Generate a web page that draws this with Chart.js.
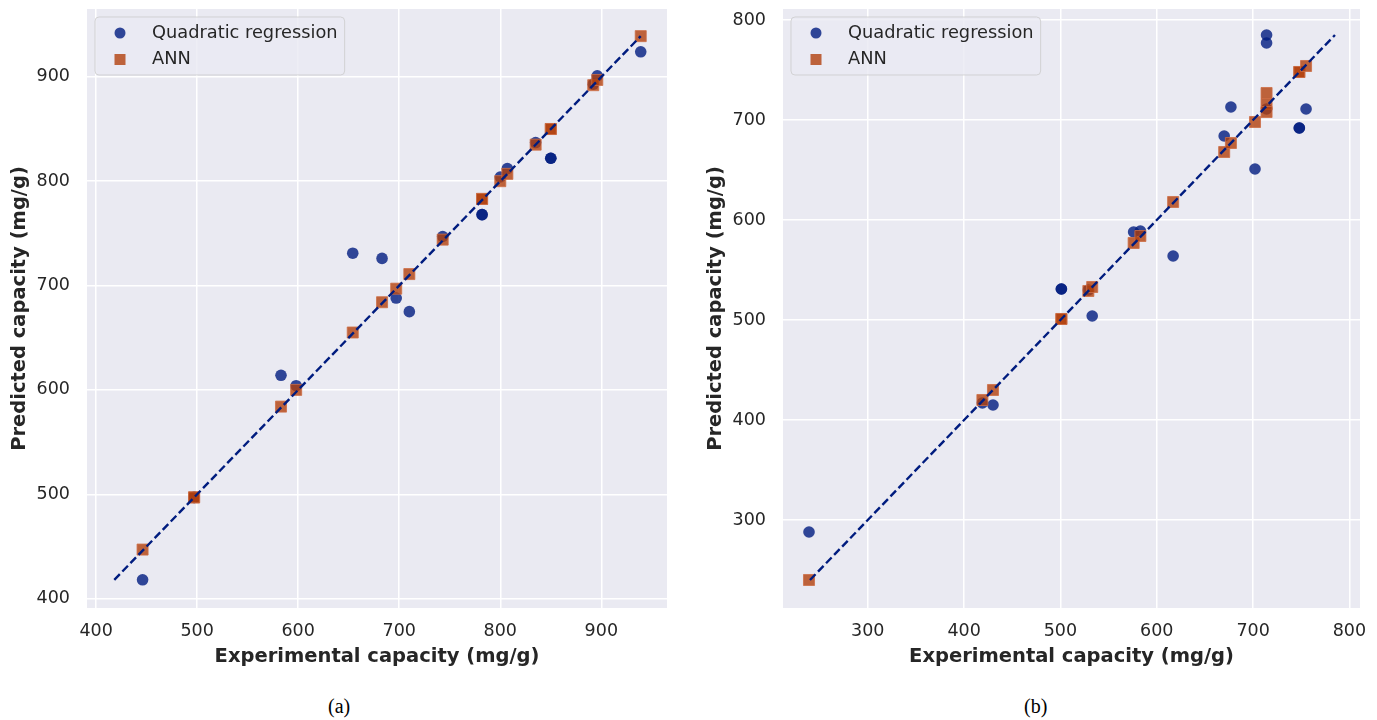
<!DOCTYPE html>
<html>
<head>
<meta charset="utf-8">
<script src="https://cdn.jsdelivr.net/npm/chart.js@4.4.0/dist/chart.umd.min.js"></script>
<style>
  body { margin: 0; background: #fff; width: 1377px; height: 720px; position: relative; overflow: hidden; }
  canvas { position: absolute; top: 0; }
  .cap { position: absolute; top: 695px; font-family: "Liberation Serif", serif; font-size: 20px; color: #000; }
</style>
</head>
<body>
<canvas id="chartA" width="680" height="690" style="left:0"></canvas>
<canvas id="chartB" width="687" height="690" style="left:690px"></canvas>
<div class="cap" style="left:328px">(a)</div>
<div class="cap" style="left:1024px">(b)</div>
<script>
// (a) experimental vs predicted
const expA = [446, 497, 497, 583, 598, 654, 683, 697, 710, 743, 782, 782, 800, 807, 835, 850, 850, 892, 896, 939];
const qrA  = [418, 497, 497, 614, 604, 731, 726, 688, 675, 747, 768, 768, 804, 812, 837, 822, 822, 893, 901, 924];
const annA = [447, 497, 497, 584, 600, 655, 684, 697, 711, 744, 783, 783, 800, 807, 835, 850, 850, 892, 897, 939];
const ticksA = [400, 500, 600, 700, 800, 900];

// (b)
const expB = [239, 419, 430, 501, 501, 529, 533, 576, 583, 617, 670, 677, 702, 714, 714, 714, 748, 748, 755];
const qrB  = [288, 417, 415, 531, 531, 530, 504, 588, 589, 564, 684, 713, 651, 785, 777, 711, 692, 692, 711];
const annB = [240, 420, 430, 501, 501, 529, 533, 577, 584, 618, 668, 677, 698, 727, 716, 708, 748, 748, 754];
const ticksBx = [300, 400, 500, 600, 700, 800];
const ticksBy = [300, 400, 500, 600, 700, 800];

const seriesNames = ["Quadratic regression", "ANN"];
const QR_COLOR = "rgba(0,28,127,0.8)";
const ANN_COLOR = "rgba(177,64,13,0.8)";
const TEXT = "#262626";
const FONT = "'DejaVu Sans', sans-serif";

const bgPlugin = {
  id: "bg",
  beforeDraw(chart) {
    const a = chart.chartArea, ctx = chart.ctx;
    ctx.save();
    ctx.fillStyle = "#EAEAF2";
    ctx.fillRect(a.left, a.top, a.right - a.left, a.bottom - a.top);
    ctx.restore();
  }
};

const legendPlugin = {
  id: "boxLegend",
  afterDraw(chart) {
    const a = chart.chartArea, ctx = chart.ctx;
    const x = a.left + 8, y = a.top + 8;
    ctx.save();
    ctx.font = "17.8px " + FONT;
    const tw = Math.max(...seriesNames.map(s => ctx.measureText(s).width));
    const w = 57 + tw + 7, h = 58;
    ctx.beginPath();
    ctx.roundRect(x, y, w, h, 4);
    ctx.fillStyle = "rgba(234,234,242,0.8)";
    ctx.fill();
    ctx.strokeStyle = "rgba(204,204,204,0.8)";
    ctx.lineWidth = 1;
    ctx.stroke();
    // markers
    ctx.fillStyle = QR_COLOR;
    ctx.beginPath();
    ctx.arc(x + 25, y + 16, 5.5, 0, Math.PI * 2);
    ctx.fill();
    ctx.fillStyle = ANN_COLOR;
    ctx.fillRect(x + 19.5, y + 37, 11, 11);
    ctx.fillStyle = TEXT;
    ctx.textBaseline = "middle";
    ctx.fillText(seriesNames[0], x + 57, y + 16);
    ctx.fillText(seriesNames[1], x + 57, y + 42);
    ctx.restore();
  }
};

function pts(xs, ys) { return xs.map((v, i) => ({ x: v, y: ys[i] })); }

function makeChart(id, xs, q, n, xt, yt, lim, yw, pad, ytp) {
  const all = q.concat(n);
  const lo = Math.min(...all), hi = Math.max(...all);
  const axis = (ticks, title, isY) => ({
    type: "linear",
    min: lim[0], max: lim[1],
    afterBuildTicks: s => { s.ticks = ticks.map(v => ({ value: v })); },
    afterFit: s => {
      if (isY) s.width = yw; else s.height = 82;
      s.paddingTop = 0; s.paddingBottom = 0; s.paddingLeft = 0; s.paddingRight = 0;
    },
    grid: { color: "#ffffff", lineWidth: 1.5, drawTicks: false },
    border: { display: false },
    ticks: { color: TEXT, font: { family: FONT, size: 17.5 }, padding: isY ? 17 : 13 },
    title: {
      display: true, text: title, color: TEXT,
      font: { family: FONT, size: 19.5, weight: "bold" },
      padding: isY ? { top: ytp, bottom: 0 } : { top: 0, bottom: 21 }
    }
  });
  return new Chart(document.getElementById(id), {
    type: "scatter",
    data: {
      datasets: [
        {
          type: "line", label: "y=x", order: 0,
          data: [{ x: lo, y: lo }, { x: hi, y: hi }],
          borderColor: "#001c7f", borderWidth: 2.4, borderDash: [8, 3.6],
          pointRadius: 0, fill: false
        },
        {
          label: seriesNames[1], order: 1, data: pts(xs, n),
          pointStyle: "rect", pointRadius: 7.8, pointHoverRadius: 7.8,
          backgroundColor: ANN_COLOR, borderColor: "rgba(205,110,70,0.8)", borderWidth: 1
        },
        {
          label: seriesNames[0], order: 2, data: pts(xs, q),
          pointStyle: "circle", pointRadius: 5.8, pointHoverRadius: 5.8,
          backgroundColor: QR_COLOR, borderColor: QR_COLOR, borderWidth: 0
        }
      ]
    },
    options: {
      responsive: false, animation: false, devicePixelRatio: 1,
      layout: { padding: pad },
      plugins: { legend: { display: false }, tooltip: { enabled: false } },
      scales: {
        x: axis(xt, "Experimental capacity (mg/g)", false),
        y: axis(yt, "Predicted capacity (mg/g)", true)
      }
    },
    plugins: [bgPlugin, legendPlugin]
  });
}

makeChart("chartA", expA, qrA, annA, ticksA, ticksA, [391, 965], 87,
  { top: 9, right: 13, left: 0, bottom: 0 }, 8);
makeChart("chartB", expB, qrB, annB, ticksBx, ticksBy, [212, 811], 93,
  { top: 9, right: 17, left: 0, bottom: 0 }, 14);
</script>
</body>
</html>
